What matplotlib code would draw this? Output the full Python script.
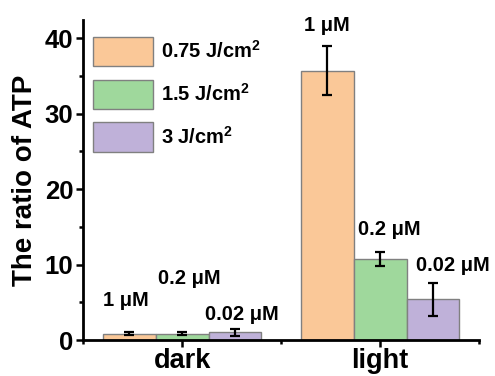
import numpy as np
import matplotlib
matplotlib.use("Agg")
import matplotlib.pyplot as plt

plt.rcParams['font.family'] = ['Liberation Sans', 'DejaVu Sans']
plt.rcParams['font.weight'] = 'bold'
plt.rcParams['mathtext.fontset'] = 'custom'
plt.rcParams['mathtext.rm'] = 'Liberation Sans:bold'
plt.rcParams['mathtext.bf'] = 'Liberation Sans:bold'

groups = ['dark', 'light']
series = ['0.75 J/cm$^{2}$', '1.5 J/cm$^{2}$', '3 J/cm$^{2}$']
values = [[0.85, 35.7],
          [0.85, 10.7],
          [1.0, 5.4]]
errors = [[0.15, 3.2],
          [0.15, 0.95],
          [0.45, 2.2]]
conc_labels = ['1 μM', '0.2 μM', '0.02 μM']
# label positions (x shift from bar centre, y in data units)
label_dx = [[-0.015, 0.0],
            [0.035, 0.045],
            [0.035, 0.10]]
label_y = [[5.2, 41.7],
           [8.1, 14.6],
           [3.4, 9.9]]
colors = ['#FAC898', '#9FD89C', '#BFB1D9']

fig = plt.figure(figsize=(4.95, 3.76), dpi=100)
ax = fig.add_axes([0.168, 0.0957, 0.8, 0.851])

x = np.arange(1, len(groups) + 1)
w = 0.267
for i in range(3):
    xs = x + (i - 1) * w
    ax.bar(xs, values[i], w, color=colors[i], edgecolor='#808080', linewidth=1,
           label=series[i], zorder=2)
    ax.errorbar(xs, values[i], yerr=errors[i], fmt='none', ecolor='black',
                elinewidth=1.6, capsize=3.5, capthick=1.6, zorder=3)
    for j in range(len(groups)):
        ax.text(xs[j] + label_dx[i][j], label_y[i][j], conc_labels[i],
                ha='center', va='center', fontsize=14.5, fontweight='bold')

ax.set_xlim(0.5, 2.5)
ax.set_ylim(0, 42.4)
ax.set_xticks(x)
ax.set_xticklabels(groups, fontsize=19.5, fontweight='bold')
ax.set_xticks([0.5, 1.5, 2.5], minor=True)
ax.set_yticks([0, 10, 20, 30, 40])
ax.set_yticks([5, 15, 25, 35], minor=True)
ax.tick_params(axis='y', labelsize=18.5, width=1.8, length=5, pad=2)
ax.tick_params(axis='x', width=1.8, length=5, pad=1)
ax.tick_params(which='minor', width=1.8, length=3)
for lab in ax.get_yticklabels():
    lab.set_fontweight('bold')
ax.set_ylabel('The ratio of ATP', fontsize=20, fontweight='bold', labelpad=5)

for s in ['top', 'right']:
    ax.spines[s].set_visible(False)
for s in ['left', 'bottom']:
    ax.spines[s].set_linewidth(2)

ax.legend(loc='upper left', bbox_to_anchor=(0.025, 0.948), frameon=False,
          fontsize=14.5, handlelength=3.0, handleheight=1.85, labelspacing=0.68,
          handletextpad=0.35, borderaxespad=0, borderpad=0)

fig.savefig('out.png', dpi=100)
